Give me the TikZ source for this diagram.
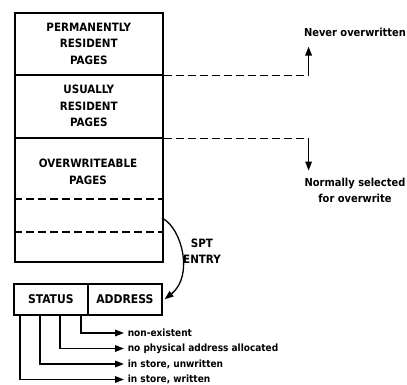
\documentclass[tikz,border=0pt]{standalone}
\usepackage{fontspec}
\setmainfont{DejaVu Sans Condensed}[BoldFont={DejaVu Sans Condensed Bold}]
\usetikzlibrary{arrows.meta,calc}
\newcommand{\capsfont}{\bfseries\fontsize{11.5}{16.5}\selectfont}
\newcommand{\fieldfont}{\bfseries\fontsize{12}{16}\selectfont}
\newcommand{\lblfont}{\bfseries\fontsize{10}{16}\selectfont}
\newcommand{\notefont}{\bfseries\fontsize{11}{16}\selectfont}
\tikzset{
  secbox/.style={draw, rectangle, minimum width=148pt, inner sep=0pt, align=center, anchor=north west, font=\capsfont},
  fieldbox/.style={draw, rectangle, minimum width=74pt, minimum height=31pt, inner sep=0pt, anchor=north west, font=\fieldfont},
  dashline/.style={dash pattern=on 8pt off 4pt},
  tip/.style={-{Triangle[length=9pt,width=6.5pt]}},
  lbl/.style={font=\notefont, inner sep=0pt, align=center},
  stlbl/.style={font=\lblfont, inner sep=0pt, anchor=west}
}
\begin{document}
\begin{tikzpicture}[x=1pt,y=-1pt,line width=1.6pt]
\useasboundingbox (0,0) rectangle (407,385);
% memory sections
\node[secbox, minimum height=62pt] (perm) at (14,12) {PERMANENTLY\\RESIDENT\\PAGES};
\node[secbox, minimum height=63pt] (usual) at (14,74) {USUALLY\\RESIDENT\\PAGES};
\node[secbox, minimum height=124pt] (over) at (14,137) {};
\node[lbl, font=\capsfont] (overtxt) at (88,172) {OVERWRITEABLE\\PAGES};
\draw[dashline] ($(over.north west)+(0,62)$) -- ($(over.north east)+(0,62)$);
\draw[dashline] ($(over.north west)+(0,95)$) -- ($(over.north east)+(0,95)$);
% right side annotations
\node[lbl] (never) at (355,32) {Never overwritten};
\node[lbl] (normal) at (355,190) {Normally selected\\for overwrite};
\coordinate (c1) at ($(perm.south east)+(145,0)$);
\coordinate (c2) at ($(usual.south east)+(145,0)$);
\draw[dashline] (perm.south east) -- (c1);
\draw[tip] (c1) -- ($(c1)+(0,-29)$);
\draw[dashline] (usual.south east) -- (c2);
\draw[tip] (c2) -- ($(c2)+(0,32)$);
% SPT entry
\node[fieldbox] (status) at (13,283) {STATUS};
\node[fieldbox] (address) at (87,283) {ADDRESS};
\coordinate (cs) at (162,218);
\draw[tip, line width=1.3pt] (cs) .. controls (182,228) and (194,276) .. ($(address.east)+(2,0)$);
\node[lbl, font=\capsfont] (spt) at (202,251) {SPT\\ENTRY};
% status meanings
\node[stlbl] (t1) at (127,333) {non-existent};
\node[stlbl] (t2) at (127,348.5) {no physical address allocated};
\node[stlbl] (t3) at (127,364) {in store, unwritten};
\node[stlbl] (t4) at (127,379.5) {in store, written};
\draw[tip, shorten >=3pt] ($(status.south west)+(68,0)$) |- (t1.west);
\draw[tip, shorten >=3pt] ($(status.south west)+(47,0)$) |- (t2.west);
\draw[tip, shorten >=3pt] ($(status.south west)+(27,0)$) |- (t3.west);
\draw[tip, shorten >=3pt] ($(status.south west)+(7,0)$) |- (t4.west);
\end{tikzpicture}
\end{document}
